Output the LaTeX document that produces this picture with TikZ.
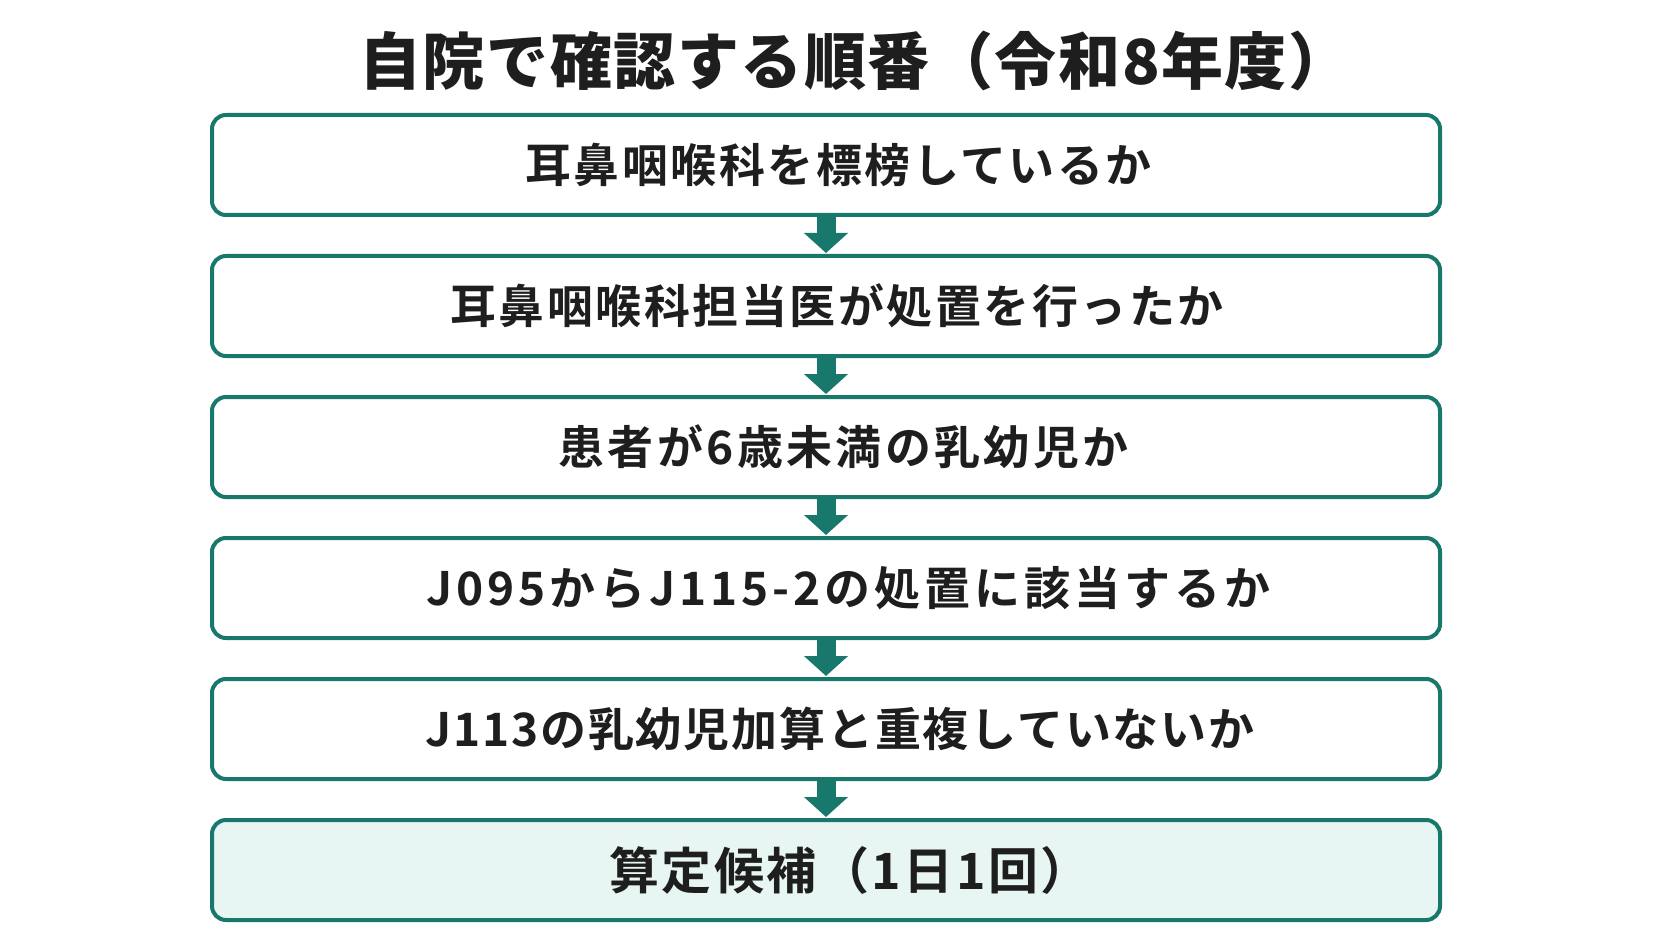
\documentclass[tikz,border=0pt]{standalone}
\usepackage{fontspec}
\usetikzlibrary{arrows.meta}
\newfontfamily\jpbold{Noto Sans CJK JP Bold}
\newfontfamily\jpblack{Noto Sans CJK JP Black}[LetterSpace=2.5]
\definecolor{tealline}{HTML}{17786B}
\definecolor{tealfill}{HTML}{E8F6F3}
\definecolor{inktext}{HTML}{1E1E1E}
\tikzset{
  stepbox/.style={draw=tealline, line width=4pt, rounded corners=14pt,
    minimum width=1228pt, minimum height=100pt, outer sep=0pt, fill=white,
    text=inktext, inner sep=0pt,
    font=\jpbold\fontsize{46pt}{50pt}\selectfont\addfontfeature{LetterSpace=#1}},
  stepbox/.default=5.5,
  finalbox/.style={stepbox, fill=tealfill,
    font=\jpbold\fontsize{50pt}{54pt}\selectfont\addfontfeature{LetterSpace=5}},
  flowarrow/.style={draw=tealline, line width=19pt,
    -{Triangle[width=43pt,length=20pt]}, shorten >=3pt},
  titletext/.style={text=inktext, font=\jpblack\fontsize{62pt}{66pt}\selectfont, inner sep=0pt}
}
\begin{document}
\begin{tikzpicture}[x=1pt,y=1pt]
\useasboundingbox (0,0) rectangle (1672,-941);
\fill[white] (0,0) rectangle (1672,-941);
\node[titletext] (title) at (855,-61) {自院で確認する順番（令和8年度）};
\node[stepbox] (b1) at (826,-165) {\hspace*{25pt}耳鼻咽喉科を標榜しているか};
\node[stepbox] (b2) at (826,-306) {\hspace*{22pt}耳鼻咽喉科担当医が処置を行ったか};
\node[stepbox=7.3] (b3) at (826,-447) {\hspace*{35pt}患者が6歳未満の乳幼児か};
\node[stepbox=8.5] (b4) at (826,-588) {\hspace*{45pt}J095からJ115-2の処置に該当するか};
\node[stepbox=4] (b5) at (826,-729) {\hspace*{28pt}J113の乳幼児加算と重複していないか};
\node[finalbox] (b6) at (826,-870) {\hspace*{48pt}算定候補（1日1回）};
\foreach \a/\b in {b1/b2,b2/b3,b3/b4,b4/b5,b5/b6}{
  \draw[flowarrow] (\a.south) -- (\b.north);
}
\end{tikzpicture}
\end{document}
